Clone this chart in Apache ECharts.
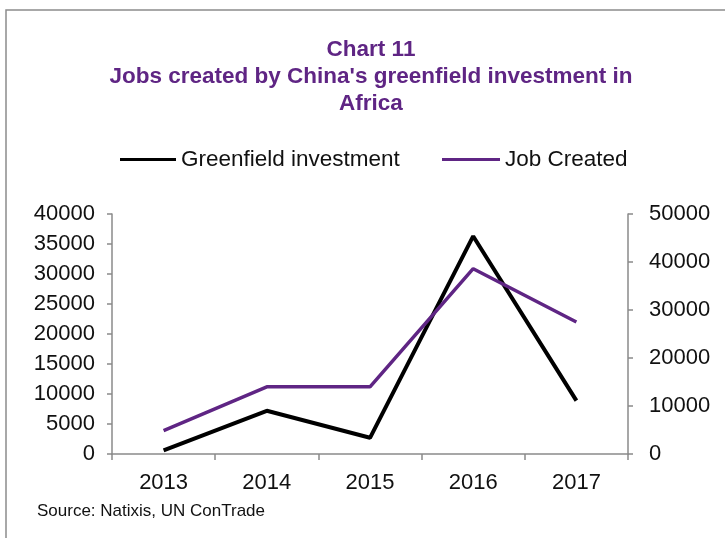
<!DOCTYPE html>
<html>
<head>
<meta charset="utf-8">
<script src="https://cdn.jsdelivr.net/npm/echarts@6/dist/echarts.min.js"></script>
<style>
  html, body { margin: 0; padding: 0; background: #fff; }
  #chart { width: 725px; height: 538px; }
</style>
</head>
<body>
<div id="chart"></div>
<script>
// Years on the category axis
const years = ['2013', '2014', '2015', '2016', '2017'];
// Greenfield investment (left axis)
const greenfield = [600, 7200, 2700, 36300, 8900];
// Jobs created (right axis)
const jobsCreated = [4850, 14000, 14000, 38600, 27500];
// Axis tick settings
const leftAxisMax = 40000, leftAxisStep = 5000;
const rightAxisMax = 50000, rightAxisStep = 10000;

const FONT = 'Liberation Sans, Arial, sans-serif';
const PURPLE = '#5f2584';
const AXIS_GREY = '#8a8a8a';
const TEXT = '#111111';

// plain integers, no thousands separator
const plain = v => String(v);

const chart = echarts.init(document.getElementById('chart'), null, { renderer: 'canvas' });

chart.setOption({
  backgroundColor: '#ffffff',
  animation: false,
  title: {
    text: "Chart 11\nJobs created by China's greenfield investment in\nAfrica",
    left: 371,
    top: 36,
    padding: 0,
    textAlign: 'center',
    textStyle: {
      color: PURPLE,
      fontFamily: FONT,
      fontWeight: 'bold',
      fontSize: 22.5,
      lineHeight: 27
    }
  },
  legend: [
    {
      data: ['Greenfield investment'],
      left: 120,
      top: 148,
      padding: 0,
      icon: 'rect',
      itemWidth: 56,
      itemHeight: 3,
      itemGap: 0,
      textStyle: { color: TEXT, fontFamily: FONT, fontSize: 22.5 }
    },
    {
      data: ['Job Created'],
      left: 442,
      top: 148,
      padding: 0,
      icon: 'rect',
      itemWidth: 58,
      itemHeight: 3,
      itemGap: 0,
      textStyle: { color: TEXT, fontFamily: FONT, fontSize: 22.5 }
    }
  ],
  grid: { left: 112, right: 97, top: 214, bottom: 84, containLabel: false },
  xAxis: {
    type: 'category',
    data: years,
    boundaryGap: true,
    axisLine: { show: true, lineStyle: { color: AXIS_GREY, width: 1.5 } },
    axisTick: { show: true, alignWithLabel: false, length: 6, lineStyle: { color: AXIS_GREY, width: 1.5 } },
    axisLabel: { color: TEXT, fontFamily: FONT, fontSize: 22, margin: 18 }
  },
  yAxis: [
    {
      type: 'value',
      position: 'left',
      min: 0,
      max: leftAxisMax,
      interval: leftAxisStep,
      splitLine: { show: false },
      axisLine: { show: true, lineStyle: { color: AXIS_GREY, width: 1.5 } },
      axisTick: { show: true, length: 5, lineStyle: { color: AXIS_GREY, width: 1.5 } },
      axisLabel: { color: TEXT, fontFamily: FONT, fontSize: 22, margin: 17, formatter: plain }
    },
    {
      type: 'value',
      position: 'right',
      min: 0,
      max: rightAxisMax,
      interval: rightAxisStep,
      splitLine: { show: false },
      axisLine: { show: true, lineStyle: { color: AXIS_GREY, width: 1.5 } },
      axisTick: { show: true, length: 5, lineStyle: { color: AXIS_GREY, width: 1.5 } },
      axisLabel: { color: TEXT, fontFamily: FONT, fontSize: 22, margin: 21, formatter: plain }
    }
  ],
  series: [
    {
      name: 'Greenfield investment',
      type: 'line',
      yAxisIndex: 0,
      data: greenfield,
      symbol: 'none',
      color: '#000000',
      lineStyle: { color: '#000000', width: 4 }
    },
    {
      name: 'Job Created',
      type: 'line',
      yAxisIndex: 1,
      data: jobsCreated,
      symbol: 'none',
      color: PURPLE,
      lineStyle: { color: PURPLE, width: 3.5 }
    }
  ],
  graphic: [
    {
      type: 'polyline',
      shape: { points: [[6, 545], [6, 10], [730, 10]] },
      style: { stroke: '#8c8c8c', lineWidth: 1.5, fill: null },
      silent: true
    },
    {
      type: 'text',
      left: 37,
      top: 503,
      style: { text: 'Source: Natixis, UN ConTrade', fill: TEXT, font: '17px ' + FONT }
    }
  ]
});
</script>
</body>
</html>
